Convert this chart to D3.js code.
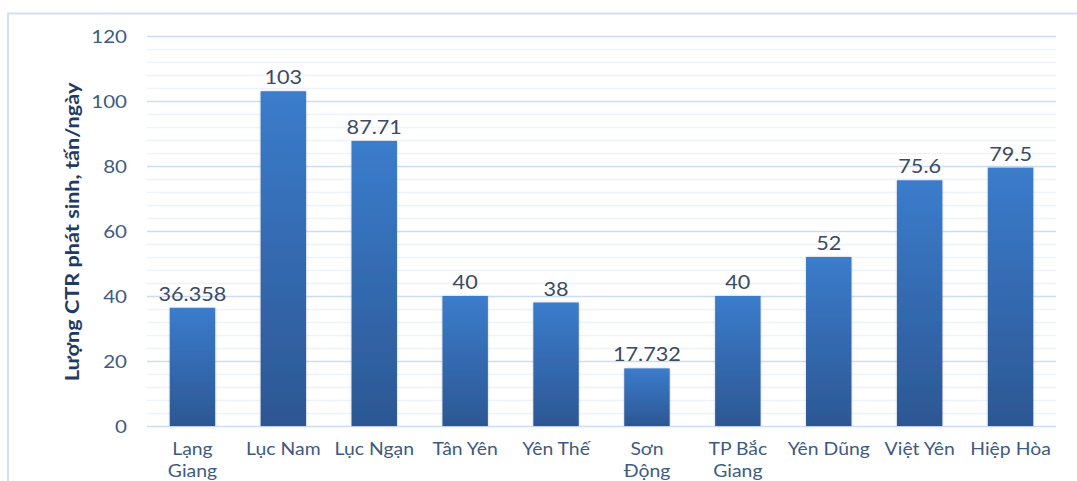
<!DOCTYPE html>
<html>
<head>
<meta charset="utf-8">
<script src="https://cdn.jsdelivr.net/npm/d3@7"></script>
<style>
  html, body { margin: 0; padding: 0; background: #fff; }
  svg { display: block; }
</style>
</head>
<body>
<svg id="chart" width="1077" height="481"></svg>
<script>
// Districts (a "|" marks where the axis label wraps)
const categories = ["Lạng|Giang", "Lục Nam", "Lục Ngạn", "Tân Yên", "Yên Thế", "Sơn|Động", "TP Bắc|Giang", "Yên Dũng", "Việt Yên", "Hiệp Hòa"];
// Solid waste generated, tonnes/day
const values = [36.358, 103, 87.71, 40, 38, 17.732, 40, 52, 75.6, 79.5];
const valueLabels = ["36.358", "103", "87.71", "40", "38", "17.732", "40", "52", "75.6", "79.5"];
const yTicks = [0, 20, 40, 60, 80, 100, 120];
const yTitle = "Lượng CTR phát sinh, tấn/ngày";

const font = "Lato, 'Open Sans', sans-serif";
const stretch = 1.14;   // text is set slightly wide
const svg = d3.select("#chart");
const margin = { left: 147, right: 21, top: 36, bottom: 55 };
const W = 1077, H = 481;

// draws a horizontally widened text anchored at (x, y)
function wideText(g, x, y, str, opts) {
  return g.append("text")
    .attr("transform", `translate(${x},${y}) ${opts.rotate ? "rotate(" + opts.rotate + ")" : ""} scale(${stretch},1)`)
    .attr("text-anchor", opts.anchor || "middle")
    .attr("font-family", font)
    .attr("font-size", opts.size)
    .attr("font-weight", opts.weight || "normal")
    .attr("fill", opts.fill)
    .text(str);
}

// outer frame
svg.append("path")
  .attr("d", `M8,${H + 2} V13.5 H${W + 2}`)
  .attr("fill", "none").attr("stroke", "#d3e0f2").attr("stroke-width", 2);

const x = d3.scaleBand().domain(categories)
  .range([margin.left, W - margin.right]).paddingInner(0.5).paddingOuter(0.25);
const y = d3.scaleLinear().domain([0, 120]).range([H - margin.bottom, margin.top]);

const defs = svg.append("defs");
const grad = defs.append("linearGradient").attr("id", "barGrad")
  .attr("x1", 0).attr("y1", 0).attr("x2", 0).attr("y2", 1);
grad.append("stop").attr("offset", "0%").attr("stop-color", "#3b7ccc");
grad.append("stop").attr("offset", "100%").attr("stop-color", "#2c5793");
const shadow = defs.append("filter").attr("id", "shadow")
  .attr("x", "-20%").attr("y", "-5%").attr("width", "140%").attr("height", "110%");
shadow.append("feDropShadow").attr("dx", 0).attr("dy", 0).attr("stdDeviation", 1.2)
  .attr("flood-color", "#8aa4c8").attr("flood-opacity", 0.6);

// minor gridlines
const minor = d3.range(0, 121, 4).filter(v => v % 20 !== 0);
svg.append("g").selectAll("line").data(minor).join("line")
  .attr("x1", margin.left).attr("x2", W - margin.right)
  .attr("y1", d => Math.round(y(d)) + 0.5).attr("y2", d => Math.round(y(d)) + 0.5)
  .attr("stroke", "#eef3fa").attr("stroke-width", 1.5);

// major gridlines
const yAxis = d3.axisLeft(y).tickValues(yTicks).tickSize(-(W - margin.left - margin.right)).tickFormat("");
const gy = svg.append("g").attr("transform", `translate(${margin.left},0)`).call(yAxis);
gy.select(".domain").remove();
gy.selectAll(".tick line").attr("stroke", "#cddcf0").attr("stroke-width", 1.5);

// y tick labels
const gyl = svg.append("g");
yTicks.forEach(t => wideText(gyl, 127, y(t) + 6.5, String(t), { size: 18, anchor: "end", fill: "#3e5a80" }));

// bars
svg.append("g").selectAll("rect").data(values).join("rect")
  .attr("x", (d, i) => x(categories[i]))
  .attr("y", d => y(d))
  .attr("width", x.bandwidth())
  .attr("height", d => y(0) - y(d))
  .attr("fill", "url(#barGrad)")
  .attr("filter", "url(#shadow)");

// value labels
const gv = svg.append("g");
values.forEach((v, i) => wideText(gv, x(categories[i]) + x.bandwidth() / 2, y(v) - 7, valueLabels[i],
  { size: 19, fill: "#3b4a63" }));

// category labels
const gx = svg.append("g");
categories.forEach(c => {
  c.split("|").forEach((line, k) => {
    wideText(gx, x(c) + x.bandwidth() / 2, 455 + k * 21.5, line, { size: 17, fill: "#3e5a80" });
  });
});

// y-axis title
wideText(svg, 79, (y(0) + y(120)) / 2 + 1, yTitle,
  { size: 19, weight: "bold", fill: "#1f3b63", rotate: -90 });
</script>
</body>
</html>
